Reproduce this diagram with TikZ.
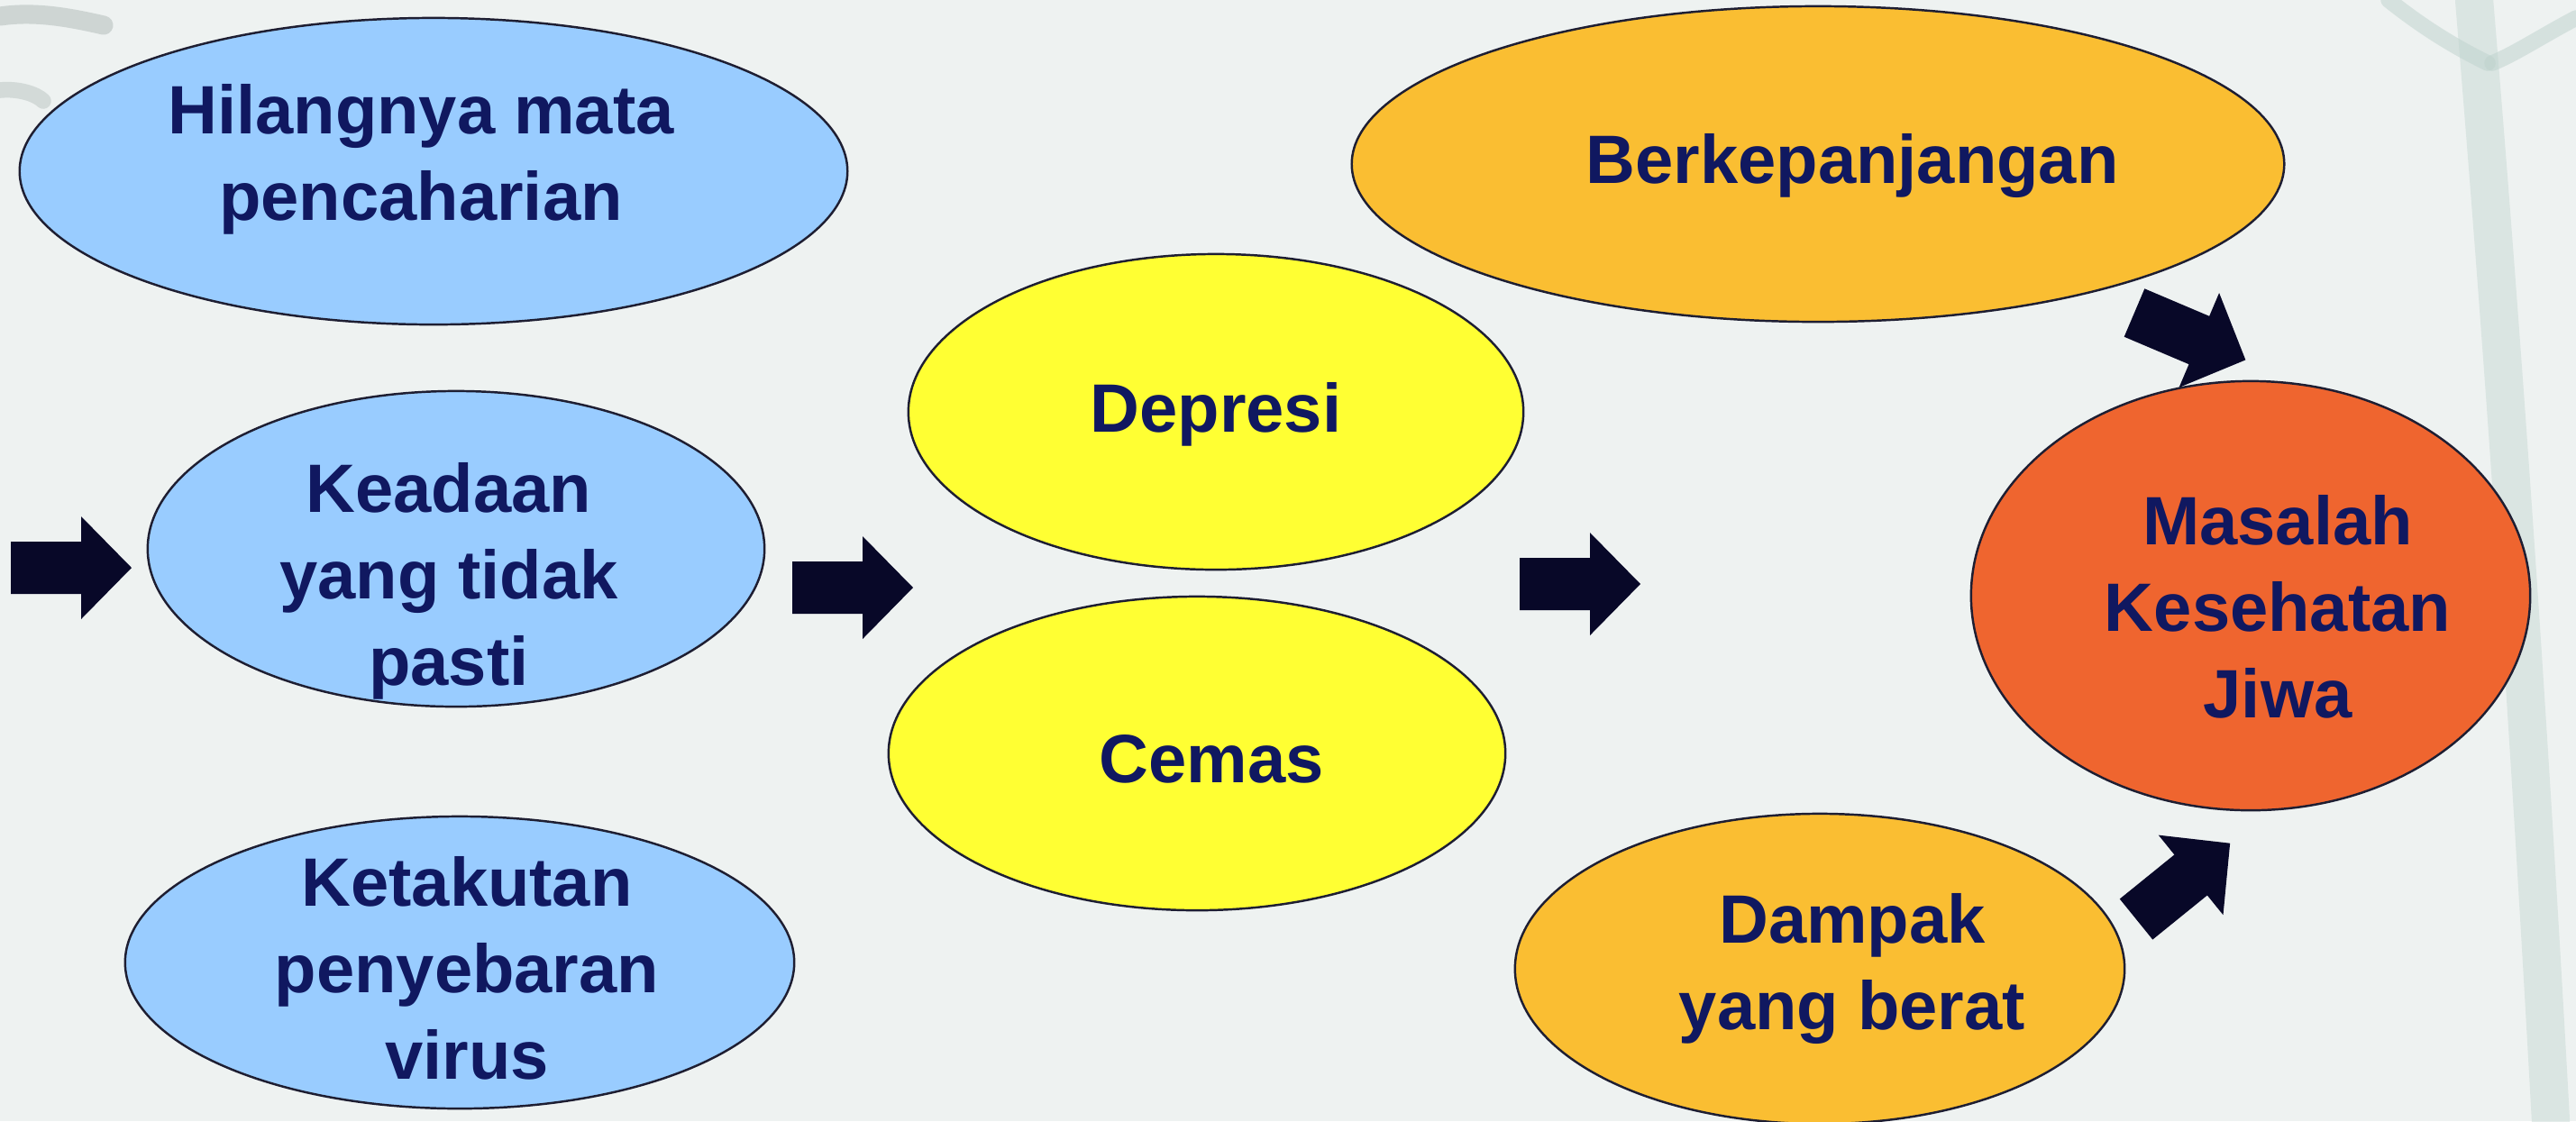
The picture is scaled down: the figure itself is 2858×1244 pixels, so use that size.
\documentclass[tikz,border=0pt]{standalone}
\usepackage{fontspec}
\setmainfont{Liberation Sans}
\usetikzlibrary{shapes.geometric}
\definecolor{bgcol}{RGB}{238,242,241}
\definecolor{bluefill}{RGB}{153,204,255}
\definecolor{yelfill}{RGB}{255,255,51}
\definecolor{goldfill}{RGB}{250,190,50}
\definecolor{redfill}{RGB}{239,101,47}
\definecolor{txtcol}{RGB}{16,24,96}
\definecolor{arrcol}{RGB}{8,8,40}
\definecolor{edgecol}{RGB}{30,30,50}
\definecolor{plantcol}{RGB}{190,210,205}
\tikzset{
  ell/.style={ellipse, draw=edgecol, line width=0.7pt, inner sep=0pt},
  txt/.style={align=center, text=txtcol, inner sep=0pt,
    font=\fontsize{21.6pt}{27.3pt}\selectfont\bfseries},
  barrow/.pic={\fill[arrcol] (0,-29) -- (78,-29) -- (78,-57) -- (134,0)
     -- (78,57) -- (78,29) -- (0,29) -- cycle;}
}
\begin{document}
\begin{tikzpicture}[x=0.01cm, y=-0.01cm]
\fill[bgcol] (0,0) rectangle (2858,1244);
\useasboundingbox (0,0) rectangle (2858,1244);
% faint background plant
\draw[plantcol, line width=12pt, line cap=round, opacity=0.4] (2745,0) .. controls (2770,300) and (2800,700) .. (2830,1244);
\draw[plantcol, line width=5pt, line cap=round, opacity=0.5] (2650,0) .. controls (2700,40) and (2740,60) .. (2760,70);
\draw[plantcol, line width=5pt, line cap=round, opacity=0.5] (2858,20) .. controls (2820,40) and (2790,60) .. (2765,70);
\draw[plantcol!70!black, line width=6pt, line cap=round, opacity=0.3] (0,18) .. controls (40,12) and (80,20) .. (115,28);
\draw[plantcol!70!black, line width=5pt, line cap=round, opacity=0.25] (0,100) .. controls (20,98) and (40,104) .. (48,112);

% ellipses
\node[ell, fill=bluefill, minimum width=9.18cm, minimum height=3.40cm,
  label={[txt, xshift=-0.14cm, yshift=0.13cm]center:{Hilangnya mata\\pencaharian}}] (hil) at (481,190) {};
\node[ell, fill=bluefill, minimum width=6.84cm, minimum height=3.50cm,
  label={[txt, xshift=-0.08cm, yshift=-0.36cm]center:{Keadaan\\yang tidak\\pasti}}] (kea) at (506,609) {};
\node[ell, fill=bluefill, minimum width=7.42cm, minimum height=3.24cm,
  label={[txt, xshift=0.08cm, yshift=-0.06cm]center:{Ketakutan\\penyebaran\\virus}}] (ket) at (510,1068) {};
\node[ell, fill=yelfill, minimum width=6.82cm, minimum height=3.50cm,
  label={[txt, yshift=-0.03cm]center:{Depresi}}] (dep) at (1349,457) {};
\node[ell, fill=yelfill, minimum width=6.84cm, minimum height=3.48cm,
  label={[txt, xshift=0.16cm, yshift=-0.06cm]center:{Cemas}}] (cem) at (1328,836) {};
\node[ell, fill=goldfill, minimum width=10.34cm, minimum height=3.50cm,
  label={[txt, xshift=0.38cm, yshift=-0.02cm]center:{Berkepanjangan}}] (ber) at (2017,182) {};
\node[ell, fill=goldfill, minimum width=6.76cm, minimum height=3.44cm,
  label={[txt, xshift=0.36cm]center:{Dampak\\yang berat}}] (dam) at (2019,1075) {};
\node[ell, fill=redfill, minimum width=6.20cm, minimum height=4.76cm,
  label={[txt, xshift=0.30cm, yshift=-0.12cm]center:{Masalah\\Kesehatan\\Jiwa}}] (mas) at (2497,661) {};

% block arrows
\pic at (12,630) {barrow};
\pic at (879,652) {barrow};
\pic at (1686,648) {barrow};
\pic[rotate=-23] at (2368,347) {barrow};
\pic[rotate=39] at (2370,1020) {barrow};
\end{tikzpicture}
\end{document}
